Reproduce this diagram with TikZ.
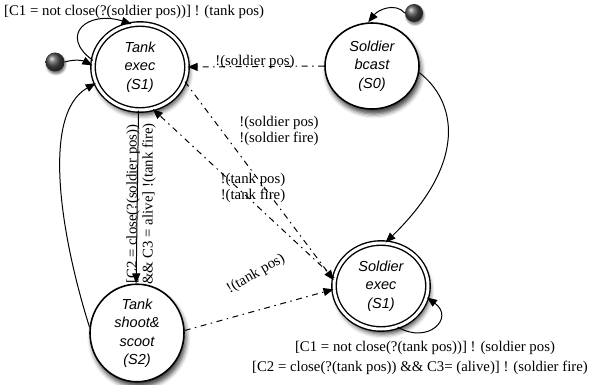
\documentclass[tikz,border=0pt]{standalone}
\usepackage{fontspec}
\setmainfont{Liberation Serif}
\newfontfamily\statefont{Liberation Sans}
\usetikzlibrary{arrows.meta,shapes.geometric,shadows.blur}

\begin{document}
\begin{tikzpicture}[x=1pt,y=-1pt,
  state/.style={ellipse, draw, line width=1.6pt, fill=white,
    minimum width=94pt, minimum height=86pt, inner sep=0pt, align=center,
    font=\statefont\itshape\fontsize{14.5}{18.5}\selectfont,
    blur shadow={shadow xshift=2pt, shadow yshift=-5pt,
      shadow blur radius=4.5pt, shadow opacity=75}},
  final/.style={state, double, double distance=3pt, line width=1.4pt},
  initdot/.style={circle, minimum size=19pt, inner sep=0pt, ball color=black!70,
    blur shadow={shadow xshift=1pt, shadow yshift=-2.5pt,
      shadow blur radius=2pt, shadow opacity=55}},
  lbl/.style={font=\fontsize{14.8}{16}\selectfont, inner sep=0pt},
  tr/.style={-{Triangle[length=10pt,width=8pt]}, line width=1pt},
  msg/.style={tr, dash pattern=on 6pt off 4.5pt on 1.5pt off 4.5pt},
]
\useasboundingbox (0,0) rectangle (592,385);

% states
\node[final] (te) at (140,67)  {Tank\\exec\\(S1)};
\node[state] (sb) at (372,66)  {Soldier\\bcast\\(S0)};
\node[final] (se) at (381,286) {Soldier\\exec\\(S1)};
\node[state] (ts) at (137,333) {Tank\\shoot\&\\scoot\\(S2)};

% initial markers
\node[initdot] (td) at (55,62) {};
\node[initdot, minimum size=18pt] (sd) at (414,13) {};

% tank transitions
\draw[tr] (td.east) .. controls (78,58) and (86,62) .. (te.178);
\draw[tr] (te.172) .. controls (58,35) and (88,10) .. (te.101);
\draw[tr] (ts.173) .. controls (62,240) and (40,115) .. (te.200);
\draw[tr] (te.268) -- (ts.91);

% soldier transitions
\draw[tr] (sd.west) .. controls (395,2) and (378,10) .. (sb.95);
\draw[tr] (sb.-8) .. controls (455,100) and (470,160) .. (se.84);
\draw[tr] (se.-68) .. controls (428,345) and (455,318) .. (se.-14);

% broadcast messages
\draw[msg] (sb.180) -- (te.0);
\draw[msg] (te.-18) -- (se.173);
\draw[msg] (se.170) -- (te.-73);
\draw[msg] (ts.3) -- (se.184);

% labels
\node[lbl, anchor=west] (l1) at (4,12) {[C1 = not close(?(soldier pos))] ! (tank pos)};
\node[lbl] (l2) at (255,62) {!(soldier pos)};
\node[lbl, align=center] (l3) at (279,131) {!(soldier pos)\\!(soldier fire)};
\node[lbl, align=center] (l4) at (253,188) {!(tank pos)\\!(tank fire)};
\node[lbl, rotate=30] (l5) at (256,274) {!(tank pos)};
\node[lbl, rotate=90, align=center] (l6) at (141,204)
  {[C2 = close(?(soldier pos))\\\&\& C3 = alive] !(tank fire)};
\node[lbl] (l7) at (425,348) {[C1 = not close(?(tank pos))] ! (soldier pos)};
\node[lbl] (l8) at (420,368) {[C2 = close(?(tank pos)) \&\& C3= (alive)] ! (soldier fire)};
\end{tikzpicture}
\end{document}
